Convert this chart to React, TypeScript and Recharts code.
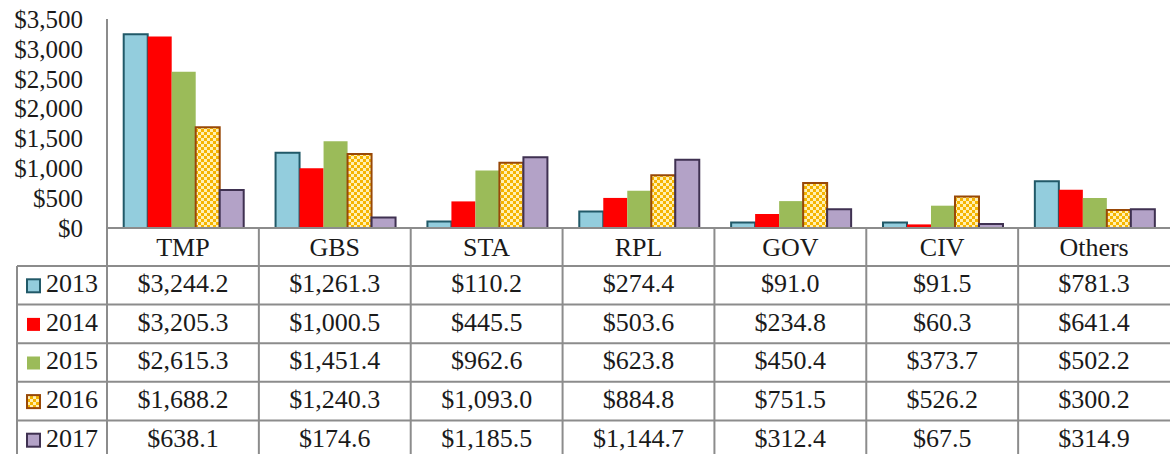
import { Bar, BarChart, XAxis, YAxis } from 'recharts';

const categories = ['TMP', 'GBS', 'STA', 'RPL', 'GOV', 'CIV', 'Others'];
const years = ['2013', '2014', '2015', '2016', '2017'];
const values2013 = [3244.2, 1261.3, 110.2, 274.4, 91.0, 91.5, 781.3];
const values2014 = [3205.3, 1000.5, 445.5, 503.6, 234.8, 60.3, 641.4];
const values2015 = [2615.3, 1451.4, 962.6, 623.8, 450.4, 373.7, 502.2];
const values2016 = [1688.2, 1240.3, 1093.0, 884.8, 751.5, 526.2, 300.2];
const values2017 = [638.1, 174.6, 1185.5, 1144.7, 312.4, 67.5, 314.9];
const yTicks = [0, 500, 1000, 1500, 2000, 2500, 3000, 3500];

const seriesValues = [values2013, values2014, values2015, values2016, values2017];

const seriesStyle = [
  { fill: '#93CDDD', stroke: '#215968', strokeWidth: 2 },
  { fill: '#FF0000', stroke: 'none', strokeWidth: 0 },
  { fill: '#9BBB59', stroke: 'none', strokeWidth: 0 },
  { fill: 'url(#checker)', stroke: '#984807', strokeWidth: 2 },
  { fill: '#B3A2C7', stroke: '#3F3151', strokeWidth: 2 },
];

const chartData = categories.map((name, i) => {
  const row: Record<string, string | number> = { name };
  years.forEach((y, s) => {
    row[y] = seriesValues[s][i];
  });
  return row;
});

const W = 1170;
const H = 454;
const PLOT_LEFT = 107;
const PLOT_TOP = 19;
const BASELINE = 228;
const HEADER_H = 38;
const ROW_H = 38.6;
const LEGEND_LEFT = 17;
const FONT = '"Liberation Serif", "Times New Roman", serif';
const GRID = '#8c8c8c';

const money = (v: number, digits: number) =>
  '$' +
  v.toLocaleString('en-US', {
    minimumFractionDigits: digits,
    maximumFractionDigits: digits,
  });

function DataTable() {
  const bandW = (W - PLOT_LEFT) / categories.length;
  const tableTop = BASELINE + HEADER_H;
  const rowsBottom = tableTop + ROW_H * years.length;
  return (
    <svg
      width={W}
      height={H}
      style={{ position: 'absolute', left: 0, top: 0, pointerEvents: 'none' }}
    >
      <defs>
        <pattern id="checkerKey" width="6" height="6" patternUnits="userSpaceOnUse">
          <rect width="6" height="6" fill="#FFF0B3" />
          <rect width="3" height="3" fill="#F5B400" />
          <rect x="3" y="3" width="3" height="3" fill="#F5B400" />
        </pattern>
      </defs>
      {/* vertical separators */}
      {categories.map((c, i) => (
        <line
          key={'v' + c}
          x1={PLOT_LEFT + i * bandW}
          x2={PLOT_LEFT + i * bandW}
          y1={BASELINE}
          y2={H}
          stroke={GRID}
          strokeWidth={2}
        />
      ))}
      <line x1={LEGEND_LEFT} x2={LEGEND_LEFT} y1={tableTop} y2={H} stroke={GRID} strokeWidth={2} />
      {/* horizontal lines */}
      {years.map((y, r) => (
        <line
          key={'h' + y}
          x1={LEGEND_LEFT}
          x2={W}
          y1={tableTop + r * ROW_H}
          y2={tableTop + r * ROW_H}
          stroke={GRID}
          strokeWidth={2}
        />
      ))}
      <line x1={LEGEND_LEFT} x2={W} y1={rowsBottom} y2={rowsBottom} stroke={GRID} strokeWidth={2} />
      {/* legend keys */}
      {years.map((y, r) => {
        const cy = tableTop + r * ROW_H + ROW_H / 2;
        const st = seriesStyle[r];
        const fill = r === 3 ? 'url(#checkerKey)' : st.fill;
        return (
          <g key={'k' + y}>
            <rect
              x={27}
              y={cy - 6}
              width={13}
              height={13}
              fill={fill}
              stroke={st.stroke}
              strokeWidth={st.strokeWidth}
            />
            <text
              x={46}
              y={cy + 1}
              dominantBaseline="middle"
              fontFamily={FONT}
              fontSize={26}
              fill="#1a1a1a"
            >
              {y}
            </text>
          </g>
        );
      })}
      {/* cell values */}
      {years.map((y, r) =>
        seriesValues[r].map((v, i) => (
          <text
            key={y + '-' + i}
            x={PLOT_LEFT + (i + 0.5) * bandW}
            y={tableTop + r * ROW_H + ROW_H / 2 + 1}
            textAnchor="middle"
            dominantBaseline="middle"
            fontFamily={FONT}
            fontSize={26}
            fill="#1a1a1a"
          >
            {money(v, 1)}
          </text>
        )),
      )}
    </svg>
  );
}

export default function App() {
  return (
    <div style={{ position: 'absolute', left: 0, top: 0, width: W, height: H, background: '#fff' }}>
      <BarChart
        width={W}
        height={H}
        data={chartData}
        margin={{ top: PLOT_TOP, right: 0, bottom: H - BASELINE - HEADER_H, left: 0 }}
        barCategoryGap="11%"
        barGap={0}
      >
        <defs>
          <pattern id="checker" width="6" height="6" patternUnits="userSpaceOnUse">
            <rect width="6" height="6" fill="#FFF0B3" />
            <rect width="3" height="3" fill="#F5B400" />
            <rect x="3" y="3" width="3" height="3" fill="#F5B400" />
          </pattern>
        </defs>
        <XAxis
          dataKey="name"
          height={HEADER_H}
          axisLine={{ stroke: GRID, strokeWidth: 2 }}
          tickLine={false}
          interval={0}
          tick={{ fontFamily: FONT, fontSize: 26, fill: '#1a1a1a' }}
          tickMargin={8}
          tickSize={2}
        />
        <YAxis
          width={PLOT_LEFT}
          domain={[0, 3500]}
          ticks={yTicks}
          interval={0}
          axisLine={{ stroke: GRID, strokeWidth: 2 }}
          tickLine={false}
          tickSize={0}
          tickMargin={24}
          tick={{ fontFamily: FONT, fontSize: 25, fill: '#1a1a1a' }}
          tickFormatter={(v: number) => money(v, 0)}
        />
        {years.map((y, s) => (
          <Bar
            key={y}
            dataKey={y}
            fill={seriesStyle[s].fill}
            stroke={seriesStyle[s].stroke}
            strokeWidth={seriesStyle[s].strokeWidth}
            isAnimationActive={false}
          />
        ))}
      </BarChart>
      <DataTable />
    </div>
  );
}
